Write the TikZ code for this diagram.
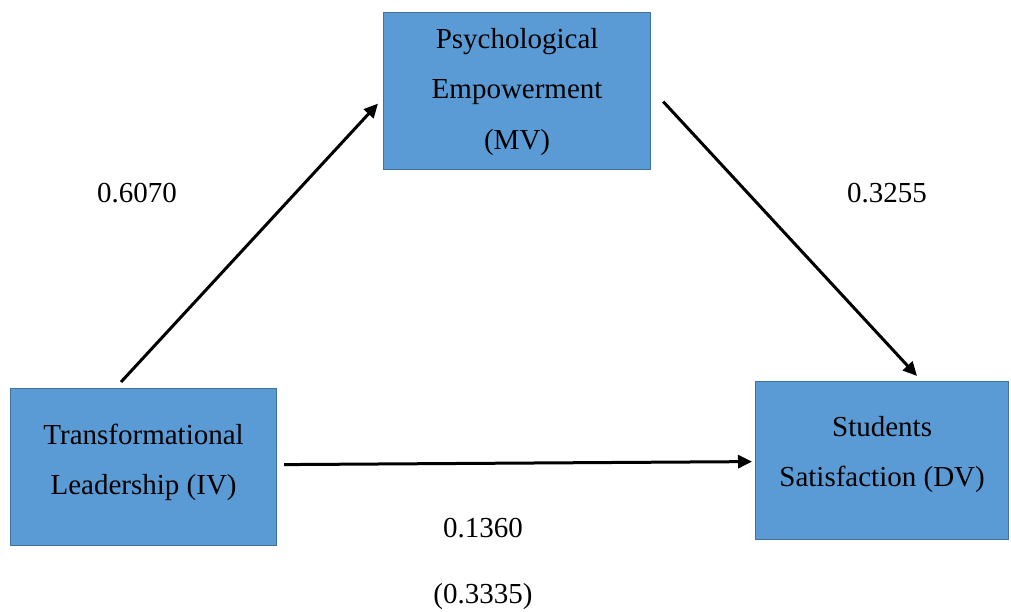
\documentclass[tikz,border=0pt]{standalone}
\usepackage{fontspec}
\setmainfont{Liberation Serif}
\usetikzlibrary{arrows.meta}
\definecolor{boxfill}{HTML}{5B9BD5}
\definecolor{boxline}{HTML}{41719C}
\tikzset{
  varbox/.style={draw=boxline, line width=1.2pt, fill=boxfill, anchor=north west, inner sep=0pt, align=center, font=\fontsize{29}{50.5}\selectfont},
  arr/.style={line width=3pt, -{Triangle[length=14pt,width=13pt]}},
  coef/.style={font=\fontsize{29}{35}\selectfont}
}
\begin{document}
\begin{tikzpicture}[x=1pt,y=-1pt]
\useasboundingbox (0,0) rectangle (1011,612);
\node[varbox, minimum width=267pt, minimum height=157pt, text depth=5pt] (pe) at (383,12) {Psychological\\Empowerment\\(MV)};
\node[varbox, minimum width=266pt, minimum height=157pt, text depth=16pt] (tl) at (10,388) {Transformational\\Leadership (IV)};
\node[varbox, minimum width=253pt, minimum height=158pt, text depth=18pt] (ss) at (755,381) {Students\\Satisfaction (DV)};
\draw[arr] ([xshift=111pt,yshift=6pt]tl.north west) -- ([xshift=-5pt,yshift=-12.5pt]pe.west);
\draw[arr] ([xshift=12pt,yshift=-10.5pt]pe.east) -- ([xshift=162pt,yshift=5pt]ss.north west);
\draw[arr] ([xshift=7pt,yshift=2.5pt]tl.east) -- ([xshift=-3pt,yshift=-1pt]ss.west);
\node[coef] (c1) at (137,193) {0.6070};
\node[coef] (c2) at (887,193) {0.3255};
\node[coef] (c3) at (483,528) {0.1360};
\node[coef] (c4) at (483,597) {(0.3335)};
\end{tikzpicture}
\end{document}
